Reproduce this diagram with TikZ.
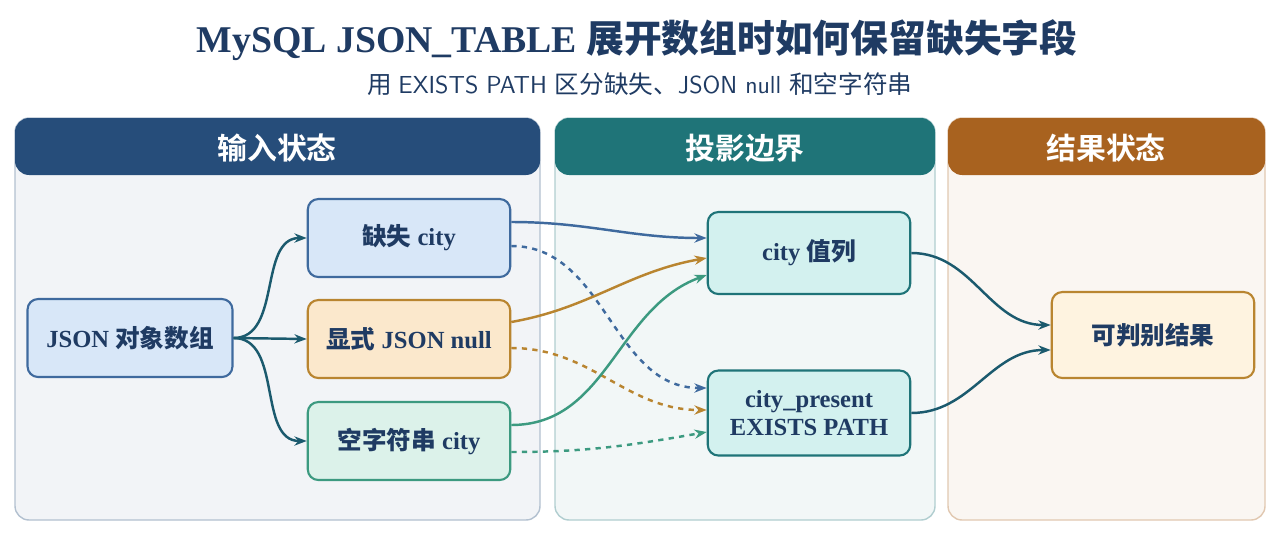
\documentclass[tikz,border=0pt]{standalone}
\usepackage{fontspec}
\setmainfont{Liberation Serif}
\newfontfamily\cjk{Noto Sans CJK SC Bold}
\newfontfamily\cjkr{Noto Sans CJK SC}
\usetikzlibrary{positioning,arrows.meta}
\definecolor{navy}{HTML}{1F3B63}
\definecolor{hblue}{HTML}{264D7A}
\definecolor{hteal}{HTML}{1F7478}
\definecolor{hbrown}{HTML}{A8621F}
\definecolor{lnblue}{HTML}{3F6A9E}
\definecolor{lnorange}{HTML}{B98530}
\definecolor{lngreen}{HTML}{3C9A80}
\definecolor{lnteal}{HTML}{1B5A6E}
\definecolor{fblue}{HTML}{D8E7F8}
\definecolor{forange}{HTML}{FBE8CC}
\definecolor{fgreen}{HTML}{DCF2EA}
\definecolor{fteal}{HTML}{D3F1EF}
\definecolor{fres}{HTML}{FEF3E0}
\tikzset{
  panel/.style={rounded corners=8pt,draw=#1!35,fill=#1!6,line width=0.8pt},
  head/.style={text=white,font=\cjk\fontsize{17}{17}\selectfont},
  box/.style={rounded corners=6pt,line width=1.2pt,minimum width=4.05cm,minimum height=1.56cm,
    align=center,font=\bfseries\fontsize{14}{16}\selectfont,text=navy},
  flow/.style={-{Stealth[length=7pt]},line width=1.4pt},
}
\begin{document}
\begin{tikzpicture}[x=0.02cm,y=-0.02cm]
\useasboundingbox[fill=white] (0,0) rectangle (1280,548);
\node[font=\bfseries\fontsize{21.5}{24}\selectfont,text=navy] (title) at (637,40)
  {MySQL JSON\_TABLE {\cjk 展开数组时如何保留缺失字段}};
\node[font=\fontsize{14}{16}\selectfont,text=navy] (sub) at (640,84)
  {{\cjkr 用} \sffamily EXISTS PATH {\cjkr 区分缺失、}JSON null {\cjkr 和空字符串}};

% panels
\draw[panel=hblue] (15,118) rectangle (540,520);
\draw[panel=hteal] (555,118) rectangle (935,520);
\draw[panel=hbrown] (948,118) rectangle (1265,520);
\fill[hblue,rounded corners=8pt] (15,118) rectangle (540,175);
\fill[hteal,rounded corners=8pt] (555,118) rectangle (935,175);
\fill[hbrown,rounded corners=8pt] (948,118) rectangle (1265,175);
\node[head] (h1) at (277,148) {输入状态};
\node[head] (h2) at (745,148) {投影边界};
\node[head] (h3) at (1106,148) {结果状态};

% nodes
\node[box,draw=lnblue,fill=fblue,minimum width=4.1cm] (arr) at (130,338) {JSON {\cjk 对象数组}};
\node[box,draw=lnblue,fill=fblue] (miss) at (409,238) {{\cjk 缺失} city};
\node[box,draw=lnorange,fill=forange] (null) at (409,339) {{\cjk 显式} JSON null};
\node[box,draw=lngreen,fill=fgreen] (empty) at (409,441) {{\cjk 空字符串} city};
\node[box,draw=hteal,fill=fteal,minimum height=1.64cm] (val) at (809,253) {city {\cjk 值列}};
\node[box,draw=hteal,fill=fteal,minimum height=1.7cm] (pres) at (809,413) {city\_present\\EXISTS PATH};
\node[box,draw=lnorange,fill=fres,minimum height=1.72cm] (res) at (1153,335) {{\cjk 可判别结果}};

% connectors
\draw[flow,lnteal] (arr.east) to[out=0,in=180] (miss.west);
\draw[flow,lnteal] (arr.east) -- (null.west);
\draw[flow,lnteal] (arr.east) to[out=0,in=180] (empty.west);
\draw[flow,lnblue] ([shift={(0,-16)}]miss.east) to[out=0,in=180] ([shift={(0,-15)}]val.west);
\draw[flow,lnblue,dashed] ([shift={(0,8)}]miss.east) to[out=0,in=180] ([shift={(0,-25)}]pres.west);
\draw[flow,lnorange] ([shift={(0,-17)}]null.east) to[out=10,in=190] ([shift={(0,5)}]val.west);
\draw[flow,lnorange,dashed] ([shift={(0,9)}]null.east) to[out=0,in=180] ([shift={(0,-3)}]pres.west);
\draw[flow,lngreen] ([shift={(0,-16)}]empty.east) to[out=0,in=200] ([shift={(0,22)}]val.west);
\draw[flow,lngreen,dashed] ([shift={(0,11)}]empty.east) to[out=0,in=190] ([shift={(0,19)}]pres.west);
\draw[flow,lnteal] (val.east) to[out=0,in=180] ([shift={(0,-10)}]res.west);
\draw[flow,lnteal] (pres.east) to[out=0,in=180] ([shift={(0,15)}]res.west);
\end{tikzpicture}
\end{document}
